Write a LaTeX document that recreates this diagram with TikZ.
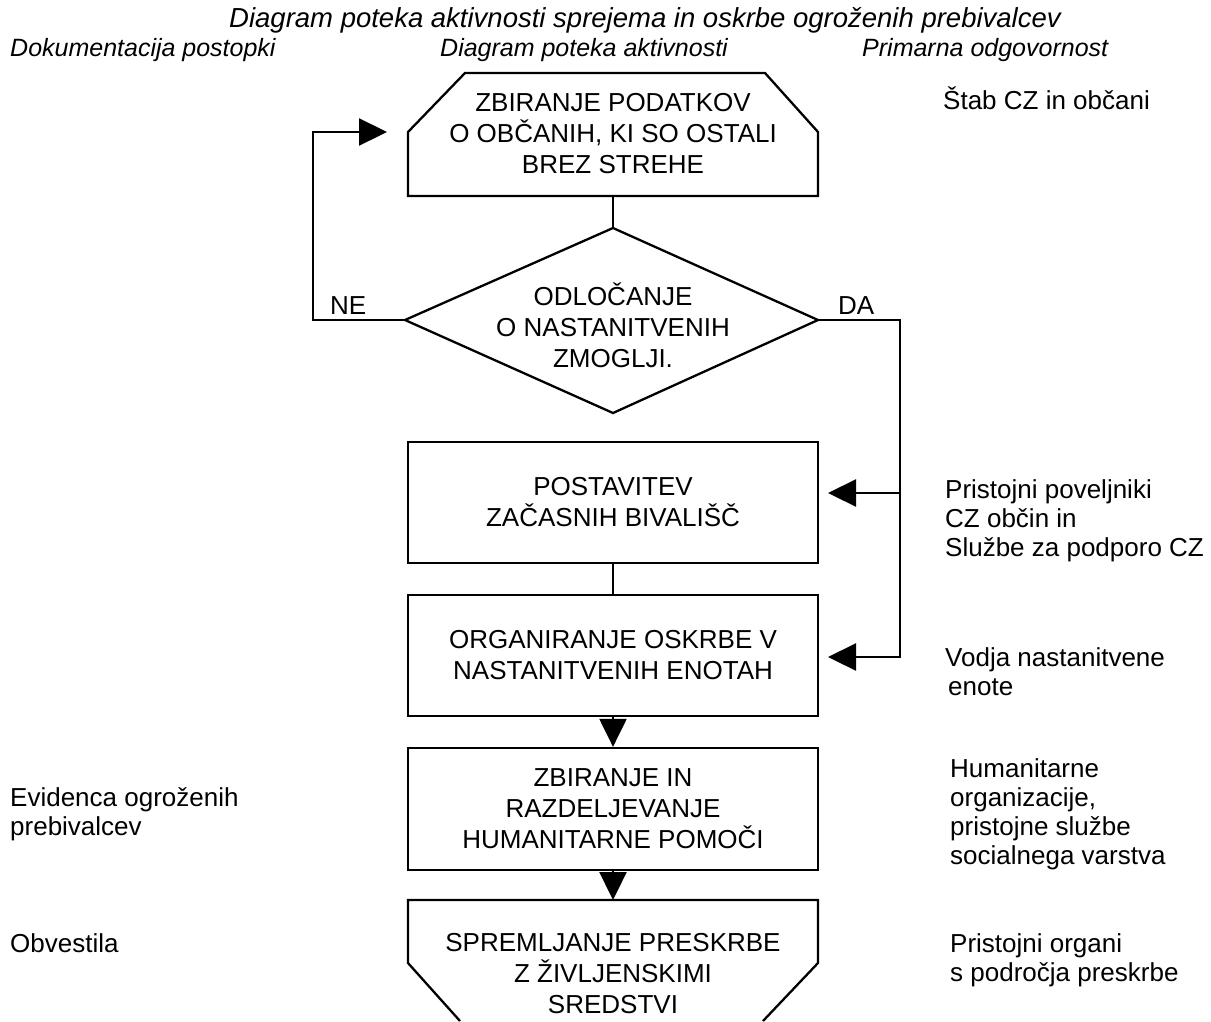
\documentclass[tikz,border=0pt]{standalone}
\usepackage{fontspec}
\setmainfont{Liberation Sans}
\usetikzlibrary{arrows.meta}
\begin{document}
\begin{tikzpicture}[x=1pt,y=-1pt,
  shp/.style={draw, line width=2.3pt, line join=miter},
  conn/.style={draw, line width=2.3pt},
  arr/.style={draw, line width=2.3pt, -{Triangle[length=28pt 0 0,width=27pt 0 0]}},
  boxtxt/.style={align=center, font=\fontsize{26}{31}\selectfont, inner sep=0pt},
  procbox/.style={draw, line width=2.3pt, rectangle, minimum width=410pt, minimum height=121pt, align=center, font=\fontsize{26}{31}\selectfont, inner sep=0pt},
  sidetxt/.style={align=left, anchor=base west, font=\fontsize{26}{29}\selectfont, inner sep=0pt},
  headtxt/.style={anchor=base west, font=\fontsize{25}{29}\selectfont\itshape, inner sep=0pt}
]
\useasboundingbox (0,0) rectangle (1211,1021);

% headings
\node[anchor=base, font=\fontsize{27.5}{33}\selectfont\itshape, inner sep=0pt] (title) at (645,27) {Diagram poteka aktivnosti sprejema in oskrbe ogroženih prebivalcev};
\node[headtxt] (h1) at (10,56) {Dokumentacija postopki};
\node[headtxt] (h2) at (440,56) {Diagram poteka aktivnosti};
\node[headtxt] (h3) at (862,56) {Primarna odgovornost};

% top shape
\draw[shp] (408,132) -- (465,73) -- (765,73) -- (818,132) -- (818,196) -- (408,196) -- cycle;
\node[boxtxt] (n1) at (613,134) {ZBIRANJE PODATKOV\\O OBČANIH, KI SO OSTALI\\BREZ STREHE};
\coordinate (n1s) at (613,196);
\coordinate (n1w) at (387,132);

% decision
\coordinate (dt) at (613,228);
\coordinate (dr) at (818,320);
\coordinate (db) at (613,413);
\coordinate (dl) at (405,320);
\draw[shp] (dt) -- (dr) -- (db) -- (dl) -- cycle;
\node[boxtxt] (n2) at (613,325) {ODLOČANJE\\O NASTANITVENIH\\ZMOGLJI.};

% process boxes
\node[procbox] (b2) at (613,502.5) {POSTAVITEV\\ZAČASNIH BIVALIŠČ};
\node[procbox] (b3) at (613,655.5) {ORGANIRANJE OSKRBE V\\NASTANITVENIH ENOTAH};
\node[procbox, minimum height=122pt] (b4) at (613,809) {ZBIRANJE IN\\RAZDELJEVANJE\\HUMANITARNE POMOČI};

% bottom shape
\draw[shp] (460,1021) -- (408,963) -- (408,900) -- (818,900) -- (818,963) -- (763,1021);
\node[boxtxt] (n5) at (613,974) {SPREMLJANJE PRESKRBE\\Z ŽIVLJENSKIMI\\SREDSTVI};
\coordinate (n5n) at (613,900);

% connectors
\draw[conn] (n1s) -- (dt);
\draw[arr] (dl) -- (313,320) -- (313,132) -- (n1w);
\coordinate (a2) at (828,493);
\coordinate (a3) at (828,657);
\draw[arr] (dr) -- (900,320) -- (900,657) -- (a3);
\draw[arr] (900,493) -- (a2);
\draw[conn] (b2.south) -- (b3.north);
\draw[arr] (b3.south) -- (b4.north);
\draw[arr] (b4.south) -- (n5n);

% branch labels
\node[sidetxt] (ne) at (330,314) {NE};
\node[sidetxt] (da) at (838,314) {DA};

% responsibility texts (anchored at the baseline of the last line)
\node[sidetxt] (r1) at (943,109) {Štab CZ in občani};
\node[sidetxt] (r2) at (945,556) {Pristojni poveljniki\\CZ občin in\\Službe za podporo CZ};
\node[sidetxt] (r3) at (945,695) {Vodja nastanitvene\\\hspace*{3pt}enote};
\node[sidetxt] (r4) at (950,864) {Humanitarne\\organizacije,\\pristojne službe\\socialnega varstva};
\node[sidetxt] (r5) at (950,981) {Pristojni organi\\s področja preskrbe};

% documentation texts
\node[sidetxt] (d1) at (10,835) {Evidenca ogroženih\\prebivalcev};
\node[sidetxt] (d2) at (10,952) {Obvestila};
\end{tikzpicture}
\end{document}
